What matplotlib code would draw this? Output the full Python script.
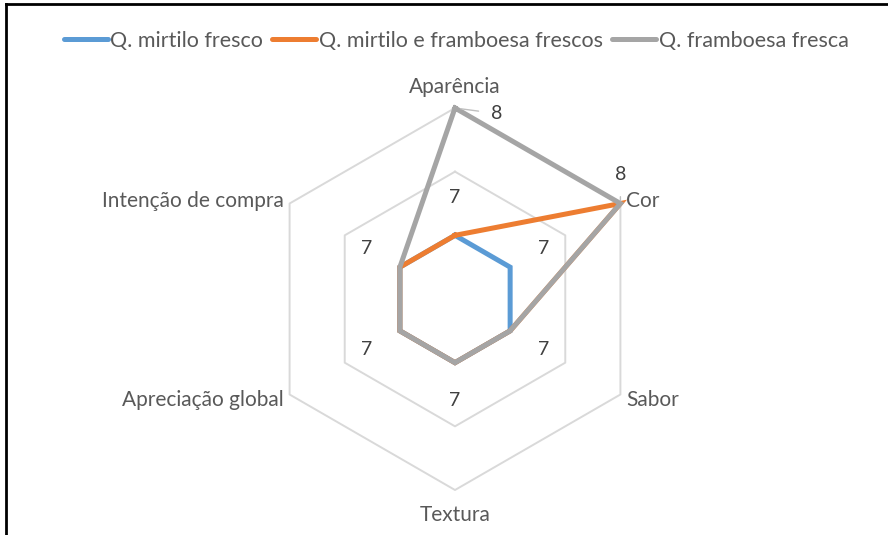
import numpy as np
import matplotlib
matplotlib.use("Agg")
import matplotlib.pyplot as plt
from matplotlib.lines import Line2D

plt.rcParams['font.family'] = ['Lato', 'DejaVu Sans']

# --- data ---
categories = ["Aparência", "Cor", "Sabor", "Textura", "Apreciação global", "Intenção de compra"]
series_names = ["Q. mirtilo fresco", "Q. mirtilo e framboesa frescos", "Q. framboesa fresca"]
mirtilo = [7, 7, 7, 7, 7, 7]
mirtilo_framboesa = [7, 8, 7, 7, 7, 7]
framboesa = [8, 8, 7, 7, 7, 7]
ring_values = [7, 7.5, 8]
r_min, r_max = 6.5, 8

colors = ["#5B9BD5", "#ED7D31", "#A5A5A5"]
grid_color = "#D9D9D9"
label_color = "#595959"
value_color = "#404040"

W, H = 888, 535
fig = plt.figure(figsize=(W / 100, H / 100), dpi=100)

cx, cy, rad = 455, 299, 191
ax = fig.add_axes([(cx - rad) / W, (H - cy - rad) / H, 2 * rad / W, 2 * rad / H], polar=True)
ax.set_theta_zero_location('N')
ax.set_theta_direction(-1)
ax.set_ylim(r_min, r_max)
ax.grid(False)
ax.spines['polar'].set_visible(False)
ax.set_xticks([])
ax.set_yticks([])
ax.patch.set_alpha(0)

n = len(categories)
theta = np.linspace(0, 2 * np.pi, n, endpoint=False)
theta_c = np.append(theta, theta[0])

for rv in ring_values:
    ax.plot(theta_c, [rv] * (n + 1), color=grid_color, lw=1.4, zorder=1, clip_on=False)

for vals, col, name in zip([mirtilo, mirtilo_framboesa, framboesa], colors, series_names):
    ax.plot(theta_c, list(vals) + [vals[0]], color=col, lw=3.6, label=name,
            solid_joinstyle='miter', zorder=3, clip_on=False)

# data labels (blue series, outward)
off = 27.5
for t, v in zip(theta, mirtilo):
    ax.annotate(str(v), (t, v), xytext=(off * np.sin(t), off * np.cos(t)),
                textcoords='offset points', ha='center', va='center',
                fontsize=14, color=value_color, zorder=5)

# gray series labels with leader lines
ax.annotate(str(framboesa[0]), (theta[0], framboesa[0]), xytext=(30, -4),
            textcoords='offset points', ha='center', va='center', fontsize=14,
            color=value_color, annotation_clip=False,
            arrowprops=dict(arrowstyle='-', color='#BFBFBF', lw=1, shrinkA=7, shrinkB=4))
ax.annotate(str(framboesa[1]), (theta[1], framboesa[1]), xytext=(0, 21),
            textcoords='offset points', ha='center', va='center', fontsize=14,
            color=value_color, annotation_clip=False,
            arrowprops=dict(arrowstyle='-', color='#BFBFBF', lw=1, shrinkA=8, shrinkB=2))

# category labels
cat_offsets = [(0, 15, 'center'), (4, 2, 'left'), (4, -4, 'left'),
               (0, -18, 'center'), (-4, -4, 'right'), (-4, 2, 'right')]
for t, c, (dx, dy, ha) in zip(theta, categories, cat_offsets):
    ax.annotate(c, (t, r_max), xytext=(dx, dy), textcoords='offset points',
                ha=ha, va='center', fontsize=15, color=label_color, annotation_clip=False)

handles, labels = ax.get_legend_handles_labels()
leg = fig.legend(handles, labels, loc='center', bbox_to_anchor=(456 / W, 1 - 41 / H), ncol=3,
                 frameon=False, fontsize=15.5, handlelength=2.05, handletextpad=0.1,
                 columnspacing=0.45, labelcolor=label_color)
for h in leg.legend_handles:
    h.set_linewidth(3.6)
    h.set_solid_capstyle('round')

# chart border (top and left)
fig.add_artist(Line2D([6 / W, 1], [1 - 4 / H, 1 - 4 / H], color='black', lw=2))
fig.add_artist(Line2D([6 / W, 6 / W], [0, 1 - 4 / H], color='black', lw=2))

fig.savefig("out.png", dpi=100)
